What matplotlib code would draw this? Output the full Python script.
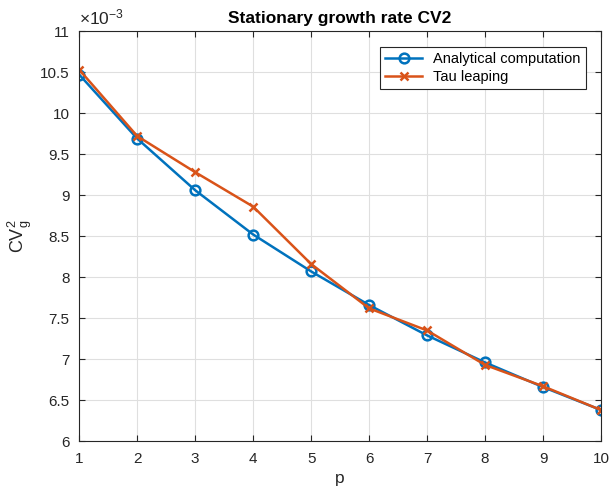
import matplotlib
matplotlib.use("Agg")
import matplotlib.pyplot as plt
from matplotlib.ticker import FormatStrFormatter

p = [1, 2, 3, 4, 5, 6, 7, 8, 9, 10]
# values in units of 1e-3
analytical = [10.47, 9.69, 9.06, 8.52, 8.07, 7.66, 7.29, 6.96, 6.66, 6.38]
tau = [10.53, 9.72, 9.28, 8.86, 8.16, 7.62, 7.35, 6.93, 6.67, 6.38]
yticks = [6, 6.5, 7, 7.5, 8, 8.5, 9, 9.5, 10, 10.5, 11]

plt.rcParams['font.family'] = ['Liberation Sans', 'DejaVu Sans']
plt.rcParams['mathtext.fontset'] = 'custom'
plt.rcParams['mathtext.rm'] = 'Liberation Sans'
plt.rcParams['mathtext.it'] = 'Liberation Sans'

fig = plt.figure(figsize=(6.09, 4.93), dpi=100)
ax = fig.add_axes([0.13, 0.105, 0.857, 0.832])

ax.plot(p, analytical, '-o', color='#0072BD', lw=1.8, ms=7, mfc='none', mew=1.8,
        label='Analytical computation')
ax.plot(p, tau, '-x', color='#D95319', lw=1.8, ms=6, mew=1.8, label='Tau leaping')

ax.set_xlim(1, 10)
ax.set_ylim(6, 11)
ax.set_xticks(range(1, 11))
ax.set_yticks(yticks)
ax.yaxis.set_major_formatter(FormatStrFormatter('%g'))
ax.text(0.0, 1.008, r'$\times\mathrm{10}^{\mathrm{-3}}$', transform=ax.transAxes,
        fontsize=12.5, color='#262626', ha='left', va='bottom')

ax.grid(True, color='#dfdfdf', lw=0.8)
ax.set_axisbelow(True)
for s in ax.spines.values():
    s.set_color('#262626')
    s.set_linewidth(0.8)
ax.tick_params(direction='in', length=4, labelsize=11, colors='#262626',
               top=True, right=True)
ax.tick_params(axis='y', pad=7)
ax.tick_params(axis='x', pad=8)

ax.set_xlabel('p', fontsize=12.5, color='#262626', labelpad=3)
ax.set_ylabel(r'CV$_\mathrm{g}^\mathrm{2}$', fontsize=13, color='#262626', labelpad=4)
ax.set_title('Stationary growth rate CV2', fontsize=12.5, fontweight='bold')

leg = ax.legend(loc='upper right', bbox_to_anchor=(0.985, 0.98), fontsize=10.5,
                fancybox=False, framealpha=1, edgecolor='#262626',
                borderaxespad=0.5, handlelength=2.5, borderpad=0.35,
                labelspacing=0.3)
leg.get_frame().set_linewidth(0.8)

fig.savefig('out.png', dpi=100)
